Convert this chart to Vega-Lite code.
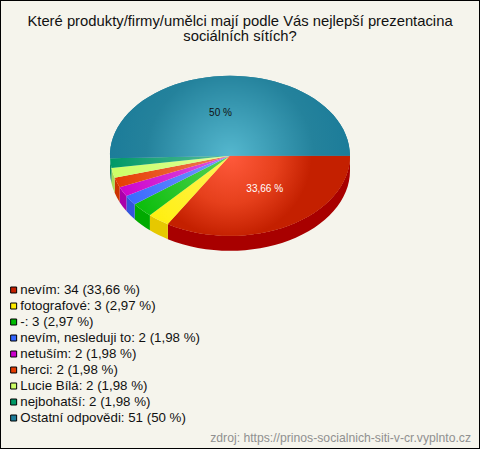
{"$schema":"https://vega.github.io/schema/vega-lite/v6.json","width":480,"height":449,"padding":0,"autosize":"none","background":"#f5f4ec","view":{"stroke":"#000","strokeWidth":2},"config":{"font":"Liberation Sans"},"title":{"text":["Které produkty/firmy/umělci mají podle Vás nejlepší prezentacina","sociálních sítích?"],"anchor":"middle","baseline":"top","dy":44,"offset":0,"font":"Liberation Sans","fontSize":14.8,"fontWeight":"normal","color":"#111","lineHeight":15.5},"data":{"values":[{"name":"a","label":"nevím: 34 (33,66 %)","value":34,"pct":"33,66 %"},{"name":"b","label":"fotografové: 3 (2,97 %)","value":3,"pct":"2,97 %"},{"name":"c","label":"-: 3 (2,97 %)","value":3,"pct":"2,97 %"},{"name":"d","label":"nevím, nesleduji to: 2 (1,98 %)","value":2,"pct":"1,98 %"},{"name":"e","label":"netuším: 2 (1,98 %)","value":2,"pct":"1,98 %"},{"name":"f","label":"herci: 2 (1,98 %)","value":2,"pct":"1,98 %"},{"name":"g","label":"Lucie Bílá: 2 (1,98 %)","value":2,"pct":"1,98 %"},{"name":"h","label":"nejbohatší: 2 (1,98 %)","value":2,"pct":"1,98 %"},{"name":"i","label":"Ostatní odpovědi: 51 (50 %)","value":51,"pct":"50 %"}]},"resolve":{"scale":{"color":"independent","shape":"independent"}},"layer":[{"mark":{"type":"point","filled":true,"opacity":1,"size":4,"xOffset":-10,"yOffset":-68.8},"encoding":{"shape":{"field":"name","type":"nominal","legend":null,"scale":{"domain":["a","b","c","d","e","f","g","h","i"],"range":["M120,0A120,80 0 0 1 -62.14,68.44L-62.14,83.44A120,80 0 0 0 120,15Z","M-62.14,68.44A120,80 0 0 1 -80.11,59.56L-80.11,74.56A120,80 0 0 0 -62.14,83.44Z","M-80.11,59.56A120,80 0 0 1 -95.32,48.6L-95.32,63.6A120,80 0 0 0 -80.11,74.56Z","M-95.32,48.6A120,80 0 0 1 -103.61,40.36L-103.61,55.36A120,80 0 0 0 -95.32,63.6Z","M-103.61,40.36A120,80 0 0 1 -110.33,31.47L-110.33,46.47A120,80 0 0 0 -103.61,55.36Z","M-110.33,31.47A120,80 0 0 1 -115.33,22.1L-115.33,37.1A120,80 0 0 0 -110.33,46.47Z","M-115.33,22.1A120,80 0 0 1 -118.55,12.39L-118.55,27.39A120,80 0 0 0 -115.33,37.1Z","M-118.55,12.39A120,80 0 0 1 -119.94,2.49L-119.94,17.49A120,80 0 0 0 -118.55,27.39Z","M-119.94,2.49A120,80 0 0 1 -120,0L-120,15A120,80 0 0 0 -119.94,17.49Z"]}},"color":{"field":"name","type":"nominal","legend":null,"scale":{"domain":["a","b","c","d","e","f","g","h","i"],"range":["#a80000","#e6c800","#00aa00","#3355dd","#aa00aa","#cc3300","#aadd55","#008855","#1a6a80"]}}}},{"mark":{"type":"point","filled":true,"opacity":1,"size":4,"xOffset":-10,"yOffset":-68.8},"encoding":{"shape":{"field":"name","type":"nominal","legend":null,"scale":{"domain":["a","b","c","d","e","f","g","h","i"],"range":["M0,0L120,0A120,80 0 0 1 -62.14,68.44Z","M0,0L-62.14,68.44A120,80 0 0 1 -80.11,59.56Z","M0,0L-80.11,59.56A120,80 0 0 1 -95.32,48.6Z","M0,0L-95.32,48.6A120,80 0 0 1 -103.61,40.36Z","M0,0L-103.61,40.36A120,80 0 0 1 -110.33,31.47Z","M0,0L-110.33,31.47A120,80 0 0 1 -115.33,22.1Z","M0,0L-115.33,22.1A120,80 0 0 1 -118.55,12.39Z","M0,0L-118.55,12.39A120,80 0 0 1 -119.94,2.49Z","M0,0L-119.94,2.49A120,80 0 1 1 120,0Z"]}},"color":{"field":"label","type":"nominal","scale":{"domain":["nevím: 34 (33,66 %)","fotografové: 3 (2,97 %)","-: 3 (2,97 %)","nevím, nesleduji to: 2 (1,98 %)","netuším: 2 (1,98 %)","herci: 2 (1,98 %)","Lucie Bílá: 2 (1,98 %)","nejbohatší: 2 (1,98 %)","Ostatní odpovědi: 51 (50 %)"],"range":["#c42000","#ffee00","#00bb00","#3366ff","#cc00cc","#e63c00","#ccff66","#009966","#1c7c99"]},"legend":{"title":null,"orient":"none","legendX":7,"legendY":283.5,"symbolType":"square","symbolSize":36,"symbolStrokeColor":"#000","symbolStrokeWidth":1,"symbolOpacity":1,"labelFont":"Liberation Sans","labelFontSize":13.3,"labelColor":"#111","labelLimit":300,"rowPadding":2,"labelOffset":0,"padding":0,"clipHeight":13}}}},{"transform":[{"filter":"datum.name=='b'"}],"mark":{"type":"point","filled":true,"opacity":1,"size":4,"xOffset":-10,"yOffset":-68.8,"shape":"M-120,0A120,80 0 1 1 120,0A120,80 0 1 1 -120,0Z","color":{"gradient":"radial","x1":0.5,"y1":0.5,"r1":0,"x2":0.5,"y2":0.5,"r2":0.5,"stops":[{"offset":0,"color":"rgba(255,255,255,0.35)"},{"offset":1,"color":"rgba(255,255,255,0)"}]}}},{"transform":[{"filter":"datum.name=='a'"}],"mark":{"type":"point","filled":true,"opacity":1,"size":4,"xOffset":-10,"yOffset":-68.8,"shape":"M0,0L120,0A120,80 0 0 1 -62.14,68.44ZM-120,-80L-119.98,-80L-120,-79.98ZM120,80L119.98,80L120,79.98Z","color":{"gradient":"radial","x1":0.5,"y1":0.5,"r1":0,"x2":0.5,"y2":0.5,"r2":0.5,"stops":[{"offset":0,"color":"#ff5a3c"},{"offset":0.4,"color":"#e6401c"},{"offset":0.68,"color":"#c42000"},{"offset":1,"color":"#c42000"}]}}},{"transform":[{"filter":"datum.name=='i'"}],"mark":{"type":"point","filled":true,"opacity":1,"size":4,"xOffset":-10,"yOffset":-68.8,"shape":"M0,0L-119.94,2.49A120,80 0 1 1 120,0ZM-120,-80L-119.98,-80L-120,-79.98ZM120,80L119.98,80L120,79.98Z","color":{"gradient":"radial","x1":0.5,"y1":0.5,"r1":0,"x2":0.5,"y2":0.5,"r2":0.5,"stops":[{"offset":0,"color":"#55b8cf"},{"offset":0.7,"color":"#24829c"},{"offset":1,"color":"#1c7c99"}]}}},{"transform":[{"filter":"datum.name=='i'"}],"mark":{"type":"text","dx":-19.5,"dy":-111.2,"font":"Liberation Sans","fontSize":10,"color":"#111"},"encoding":{"text":{"field":"pct"}}},{"transform":[{"filter":"datum.name=='a'"}],"mark":{"type":"text","dx":24.7,"dy":-35.2,"font":"Liberation Sans","fontSize":10,"color":"#fff"},"encoding":{"text":{"field":"pct"}}},{"transform":[{"filter":"datum.name=='i'"}],"mark":{"type":"text","align":"right","dx":231,"dy":213.5,"font":"Liberation Sans","fontSize":12.2,"color":"#909090"},"encoding":{"text":{"datum":"zdroj: https://prinos-socialnich-siti-v-cr.vyplnto.cz"}}}]}
